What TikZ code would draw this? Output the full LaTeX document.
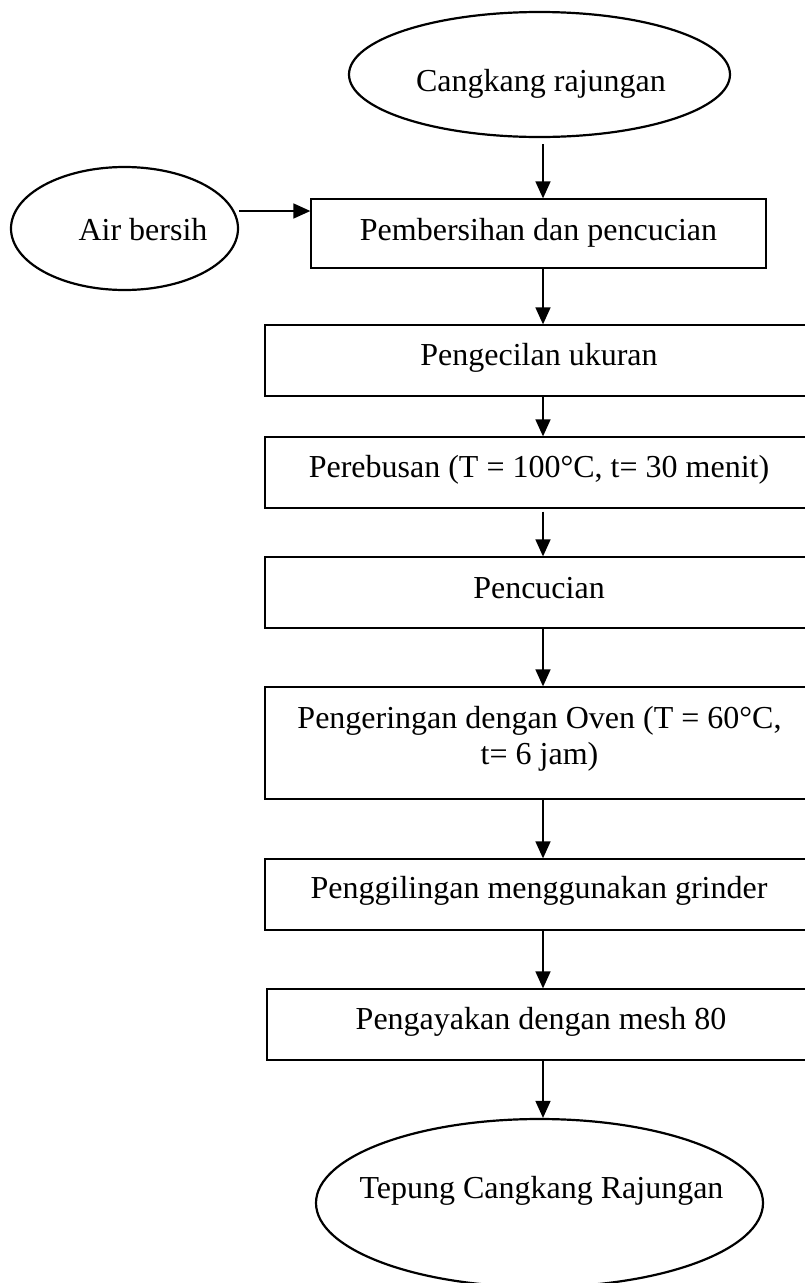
\documentclass[tikz,border=0pt]{standalone}
\usepackage{fontspec}
\setmainfont{Liberation Serif}
\usetikzlibrary{shapes.geometric,arrows.meta}
\begin{document}
\begin{tikzpicture}[x=1pt,y=-1pt,
  oval/.style={draw=black,line width=2.2pt,ellipse,inner sep=0pt},
  procbox/.style={draw=black,line width=1.3pt,rectangle,inner sep=0pt},
  txt/.style={inner sep=0pt,anchor=base,font=\fontsize{32}{36.5}\selectfont},
  arr/.style={line width=1.6pt,-{Triangle[length=17pt,width=15pt]}}]
\useasboundingbox (0,0) rectangle (804,1283);
% shapes
\node[oval,minimum width=381pt,minimum height=125pt] (start) at (539.5,74.5) {};
\node[oval,minimum width=227pt,minimum height=123pt] (air) at (124.5,228.5) {};
\node[procbox,minimum width=455pt,minimum height=69pt] (b1) at (538.5,233.5) {};
\node[procbox,minimum width=550pt,minimum height=71pt] (b2) at (540,360.5) {};
\node[procbox,minimum width=550pt,minimum height=71pt] (b3) at (540,472.5) {};
\node[procbox,minimum width=550pt,minimum height=71pt] (b4) at (540,592.5) {};
\node[procbox,minimum width=550pt,minimum height=112pt] (b5) at (540,743) {};
\node[procbox,minimum width=550pt,minimum height=71pt] (b6) at (540,894.5) {};
\node[procbox,minimum width=546pt,minimum height=71pt] (b7) at (540,1024.5) {};
\node[oval,minimum width=447pt,minimum height=168pt] (finish) at (539.5,1203) {};
% texts
\node[txt] (tstart) at (541,91) {Cangkang rajungan};
\node[txt] (tair) at (143,240) {Air bersih};
\node[txt] (t1) at (538.5,240) {Pembersihan dan pencucian};
\node[txt] (t2) at (539,365) {Pengecilan ukuran};
\node[txt] (t3) at (539,477) {Perebusan (T = 100°C, t= 30 menit)};
\node[txt] (t4) at (539,598) {Pencucian};
\node[txt] (t5a) at (539.5,728) {Pengeringan dengan Oven (T = 60°C,};
\node[txt] (t5b) at (539.5,764) {t= 6 jam)};
\node[txt] (t6) at (539,898.5) {Penggilingan menggunakan grinder};
\node[txt] (t7) at (541,1029) {Pengayakan dengan mesh 80};
\node[txt] (tfinish) at (541.5,1198) {Tepung Cangkang Rajungan};
% connectors
\coordinate (ax) at (543,0);
\coordinate (ay) at (0,211);
\draw[arr] ([yshift=-6pt]start.south -| ax) -- (b1.north -| ax);
\draw[arr] (air.east |- ay) -- (b1.west |- ay);
\draw[arr] (b1.south -| ax) -- (b2.north -| ax);
\draw[arr] (b2.south -| ax) -- (b3.north -| ax);
\draw[arr] ([yshift=-3pt]b3.south -| ax) -- (b4.north -| ax);
\draw[arr] (b4.south -| ax) -- (b5.north -| ax);
\draw[arr] (b5.south -| ax) -- (b6.north -| ax);
\draw[arr] (b6.south -| ax) -- (b7.north -| ax);
\draw[arr] (b7.south -| ax) -- (finish.north -| ax);
\end{tikzpicture}
\end{document}
